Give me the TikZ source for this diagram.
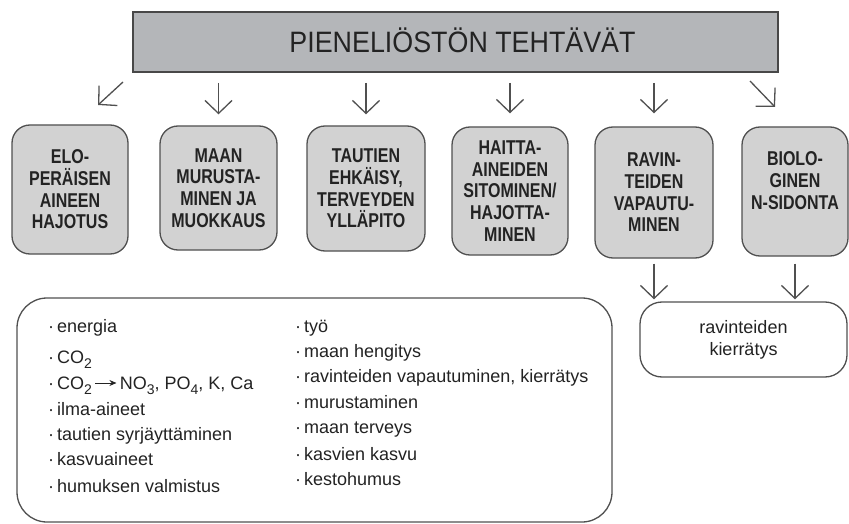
\documentclass[tikz,border=0pt]{standalone}
\usepackage{fontspec}
\setmainfont{Liberation Sans}
\newfontfamily\boxfont[FakeStretch=0.8]{Liberation Sans}
\newfontfamily\titlefont[FakeStretch=0.91]{Liberation Sans}
\usetikzlibrary{arrows.meta}
\newcommand\mysub[1]{\raisebox{-5pt}{\fontsize{14}{14}\selectfont #1}}
\definecolor{boxfill}{RGB}{210,210,210}
\definecolor{titlefill}{RGB}{180,182,185}
\definecolor{edge}{RGB}{80,80,80}
\definecolor{ink}{RGB}{35,35,35}
\begin{document}
\begin{tikzpicture}[x=1pt,y=-1pt,
  smallbox/.style={draw=edge, line width=1.3pt, fill=boxfill, rounded corners=18pt,
    inner sep=0pt, align=center, text=ink,
    font=\boxfont\bfseries\fontsize{20}{21.7}\selectfont},
  titlebox/.style={draw=edge!90!black, line width=1.6pt, fill=titlefill, inner sep=0pt,
    minimum width=645pt, minimum height=60pt},
  titletext/.style={text=ink, inner sep=0pt, font=\titlefont\fontsize{29.5}{30}\selectfont},
  plainbox/.style={draw=edge, line width=1.3pt, fill=white, inner sep=0pt, align=center,
    text=ink, font=\fontsize{18}{22}\selectfont},
  item/.style={anchor=base west, inner sep=0pt, text=ink, font=\fontsize{18}{22}\selectfont},
  arr/.style={draw=edge, line width=1.3pt, -{Straight Barb[length=13pt,width=27pt]}}
]
\useasboundingbox (0,0) rectangle (849,524);
\fill[white] (0,0) rectangle (849,524);

% title
\node[titlebox] (title) at (455.5,42) {};
\node[titletext, anchor=base] (ttext) at (462.5,53) {PIENELIÖSTÖN TEHTÄVÄT};

% function boxes
\node[smallbox, minimum width=116pt, minimum height=129pt] (b1) at (70,189.5)
  {ELO-\\PERÄISEN\\AINEEN\\HAJOTUS};
\node[smallbox, minimum width=117pt, minimum height=124pt] (b2) at (218.5,188)
  {MAAN\\MURUSTA-\\MINEN JA\\MUOKKAUS};
\node[smallbox, minimum width=118pt, minimum height=125pt] (b3) at (366,188.5)
  {TAUTIEN\\EHKÄISY,\\TERVEYDEN\\YLLÄPITO};
\node[smallbox, minimum width=116pt, minimum height=128pt] (b4) at (510,191)
  {HAITTA-\\AINEIDEN\\SITOMINEN/\\HAJOTTA-\\MINEN};
\node[smallbox, minimum width=118pt, minimum height=131pt] (b5) at (654,192.5)
  {RAVIN-\\TEIDEN\\VAPAUTU-\\MINEN};
\node[smallbox, minimum width=106pt, minimum height=129pt] (b6) at (795,191.5)
  {BIOLO-\\GINEN\\N-SIDONTA\\\mbox{}};

% arrows from title
\coordinate (d1s) at (123,82);
\coordinate (d1e) at (98,105);
\draw[arr] (d1s) -- (d1e);
\draw[arr, shorten <=10pt, shorten >=11pt] (title.south -| b2.north) -- (b2.north);
\draw[arr, shorten <=10pt, shorten >=11pt] (title.south -| b3.north) -- (b3.north);
\draw[arr, shorten <=10pt, shorten >=13pt] (title.south -| b4.north) -- (b4.north);
\draw[arr, shorten <=10pt, shorten >=13pt] (title.south -| b5.north) -- (b5.north);
\coordinate (d6s) at (750,81);
\coordinate (d6e) at (775,107);
\draw[arr] (d6s) -- (d6e);

% recycling box
\node[plainbox, rounded corners=22pt, minimum width=207pt, minimum height=75pt] (kier)
  at (743.5,339.5) {ravinteiden\\kierrätys};
\draw[arr, shorten <=5pt, shorten >=2pt] (b5.south) -- (b5.south |- kier.north);
\draw[arr, shorten <=7pt, shorten >=2pt] (b6.south) -- (b6.south |- kier.north);

% list box
\node[plainbox, rounded corners=30pt, minimum width=595pt, minimum height=224pt] (list)
  at (314.5,410) {};

\foreach \t/\y [count=\i] in {
  {energia}/332,
  {CO\mysub{2}}/363,
  {CO\mysub{2}\,\tikz[baseline=0pt,x=1pt,y=1pt]\draw[ink,line width=0.9pt,-{Stealth[length=7pt,width=6pt]}] (0,6) -- (21,6);\,NO\mysub{3}, PO\mysub{4}, K, Ca}/389,
  {ilma-aineet}/415,
  {tautien syrjäyttäminen}/440,
  {kasvuaineet}/465,
  {humuksen valmistus}/492}
  {\node[item] (l\i) at (48,\y) {·\hspace{3pt}\t};}

\foreach \t/\y [count=\i] in {
  {työ}/332,
  {maan hengitys}/357,
  {ravinteiden vapautuminen, kierrätys}/382,
  {murustaminen}/408,
  {maan terveys}/433,
  {kasvien kasvu}/460,
  {kestohumus}/485}
  {\node[item] (r\i) at (295,\y) {·\hspace{3pt}\t};}
\end{tikzpicture}
\end{document}
